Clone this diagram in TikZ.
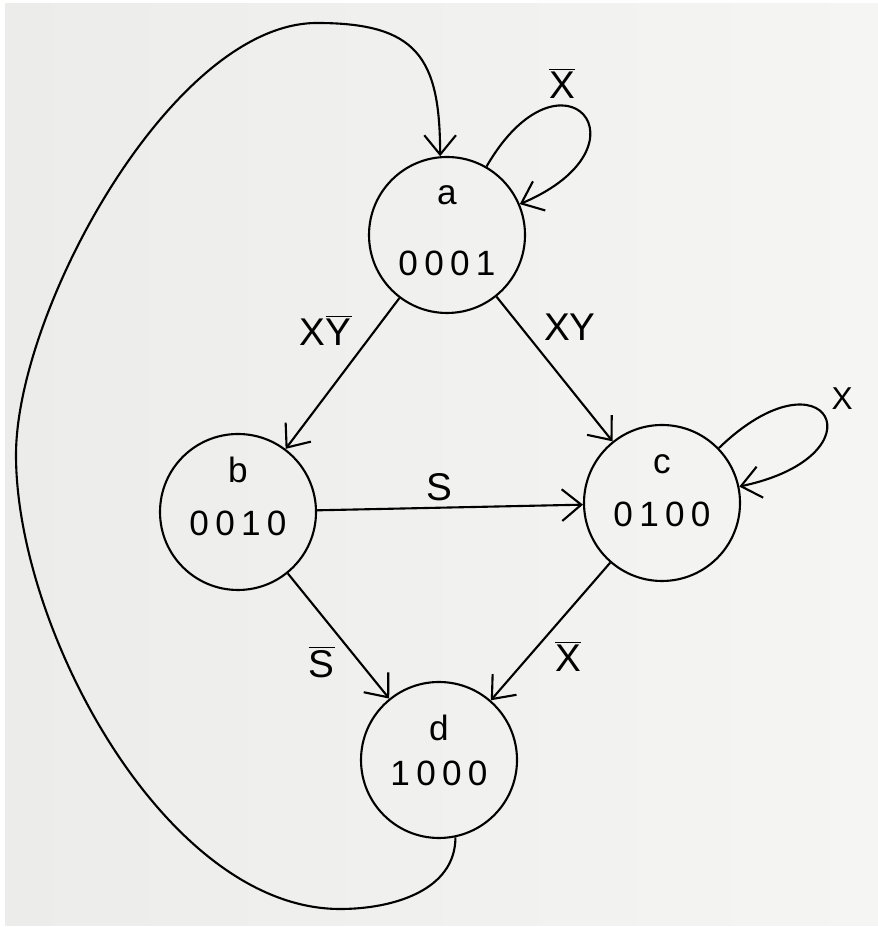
\documentclass[tikz,border=0pt]{standalone}
\usepackage{fontspec}
\setmainfont{Liberation Sans}
\usetikzlibrary{arrows.meta}

\definecolor{paper}{RGB}{236,236,234}
\definecolor{paperlight}{RGB}{245,245,244}
\newcommand{\inv}[1]{$\overline{\mbox{#1}}$}

\begin{document}
\begin{tikzpicture}[->,>={Straight Barb[length=11pt,width=18pt]},auto,line width=1.2pt,
  state node/.style={circle,draw,minimum size=3.12cm,inner sep=0pt,align=center,
    font=\fontsize{20}{24}\selectfont\addfontfeature{LetterSpace=18}}]
  % sheet of paper
  \fill[white,-] (0,0) rectangle (17.56,18.54);
  \shade[left color=paper,right color=paperlight,-] (0.1,0.04) rectangle (17.56,18.46);
  \useasboundingbox (0,0) rectangle (17.56,18.54);

  \node[state node,text depth=5pt] (a) at (8.94,13.84) {a\\[16pt]0001};
  \node[state node,text depth=18pt] (b) at (4.76,8.30) {b\\[6pt]0010};
  \node[state node,text depth=14pt] (c) at (13.24,8.48) {c\\[6pt]0100};
  \node[state node,text depth=11pt] (d) at (8.78,3.34) {d\\[2pt]1000};

\path[every node/.style={font=\fontsize{22}{26}\selectfont}]
  (a) edge node[swap,pos=.36] {X\inv{Y}} (b)
  (a) edge node[pos=.35] {XY} (c)
  (b) edge node[pos=.46] {S} (c)
  (b) edge node[swap,pos=.53] {\inv{S}} (d)
  (c) edge node[pos=.52] {\inv{X}} (d)
  (a) edge[out=60,in=23,min distance=3cm] node[pos=.35] {\inv{X}} (a)
  (c) edge[out=44,in=12,min distance=3cm] node[pos=.5,font=\fontsize{18}{22}\selectfont] {X} (c)
;

  % long way back from d to a
  \coordinate (lowpt) at (6.80,0.36);
  \coordinate (westpt) at (0.32,9.44);
  \coordinate (highpt) at (6.34,18.08);
  \draw (d.282) to[out=-90,in=0] (lowpt)
    to[out=180,in=-90,looseness=.8] (westpt)
    to[out=90,in=180,looseness=.7] (highpt)
    to[out=0,in=90,looseness=1.4] (a.95);
\end{tikzpicture}
\end{document}
